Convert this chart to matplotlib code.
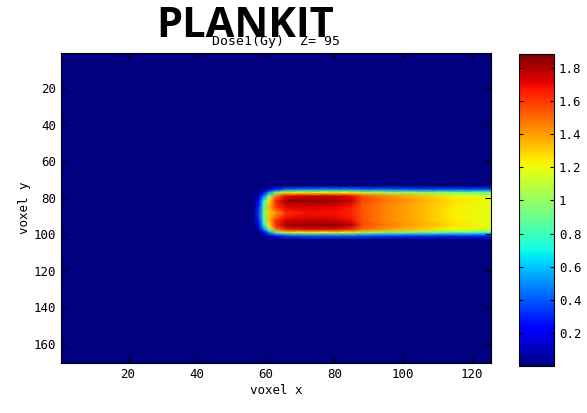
import numpy as np
import matplotlib
matplotlib.use('Agg')
import matplotlib.pyplot as plt

# Nodos de la malla (voxel x, voxel y) y dosis (Gy)
voxel_x = [0.5, 56.5, 58, 59.5, 61, 63, 66, 72, 80, 85, 88, 95, 105, 115, 125.5]
voxel_y = [0.5, 73.5, 75.5, 77, 79, 81.5, 85, 88.5, 92, 95, 97.5, 99, 101, 103, 170.5]
dosis = [
    [0, 0, 0, 0, 0, 0, 0, 0, 0, 0, 0, 0, 0, 0, 0],
    [0, 0, 0, 0, 0, 0, 0, 0, 0, 0, 0, 0, 0, 0, 0],
    [0, 0, 0, 0.05, 0.15, 0.3, 0.45, 0.5, 0.5, 0.5, 0.45, 0.45, 0.4, 0.4, 0.4],
    [0, 0, 0, 0.2, 0.5, 0.9, 1.15, 1.2, 1.2, 1.2, 1.1, 1.0, 0.95, 0.9, 0.85],
    [0, 0, 0.1, 0.45, 0.95, 1.45, 1.7, 1.75, 1.75, 1.7, 1.55, 1.45, 1.33, 1.22, 1.15],
    [0, 0, 0.2, 0.7, 1.25, 1.65, 1.84, 1.86, 1.84, 1.78, 1.58, 1.48, 1.37, 1.26, 1.2],
    [0, 0, 0.3, 0.85, 1.35, 1.6, 1.72, 1.74, 1.72, 1.66, 1.55, 1.45, 1.35, 1.24, 1.18],
    [0, 0, 0.35, 0.9, 1.3, 1.4, 1.62, 1.68, 1.68, 1.64, 1.55, 1.45, 1.35, 1.23, 1.17],
    [0, 0, 0.3, 0.85, 1.35, 1.6, 1.72, 1.76, 1.74, 1.68, 1.55, 1.45, 1.35, 1.24, 1.18],
    [0, 0, 0.2, 0.7, 1.25, 1.65, 1.84, 1.86, 1.86, 1.8, 1.58, 1.48, 1.37, 1.26, 1.2],
    [0, 0, 0.1, 0.45, 0.95, 1.45, 1.65, 1.7, 1.7, 1.62, 1.5, 1.4, 1.3, 1.2, 1.12],
    [0, 0, 0, 0.2, 0.5, 0.9, 1.1, 1.15, 1.15, 1.12, 1.05, 0.95, 0.9, 0.85, 0.8],
    [0, 0, 0, 0.03, 0.1, 0.25, 0.35, 0.4, 0.4, 0.4, 0.38, 0.35, 0.32, 0.3, 0.3],
    [0, 0, 0, 0, 0, 0, 0, 0, 0, 0, 0, 0, 0, 0, 0],
    [0, 0, 0, 0, 0, 0, 0, 0, 0, 0, 0, 0, 0, 0, 0],
]
x_ticks = [20, 40, 60, 80, 100, 120]
y_ticks = [20, 40, 60, 80, 100, 120, 140, 160]
cb_ticks = [0.2, 0.4, 0.6, 0.8, 1, 1.2, 1.4, 1.6, 1.8]
cb_labels = ['0.2', '0.4', '0.6', '0.8', '1', '1.2', '1.4', '1.6', '1.8']

mono = 'DejaVu Sans Mono'
fig = plt.figure(figsize=(5.87, 4.13), dpi=100)
ax = fig.add_axes([0.104, 0.121, 0.732, 0.751])
cax = fig.add_axes([0.884, 0.114, 0.060, 0.755])

malla = ax.pcolormesh(voxel_x, voxel_y, np.array(dosis), shading='gouraud',
                      cmap='jet', vmin=0, vmax=1.885)
ax.set_xlim(0.5, 125.5)
ax.set_ylim(170.5, 0.5)
ax.set_xticks(x_ticks)
ax.set_yticks(y_ticks)
ax.tick_params(direction='in', top=True, right=True, length=4, labelsize=9)
for lab in ax.get_xticklabels() + ax.get_yticklabels():
    lab.set_family(mono)
ax.set_xlabel('voxel x', family=mono, fontsize=9, labelpad=2)
ax.set_ylabel('voxel y', family=mono, fontsize=9, labelpad=2)
ax.set_title('Dose1(Gy)  Z= 95', family=mono, fontsize=9.5, pad=6)

cb = fig.colorbar(malla, cax=cax, ticks=cb_ticks)
cb.ax.set_yticklabels(cb_labels, family=mono, fontsize=9)
cb.ax.tick_params(direction='in', left=True, right=True, length=3)
cb.outline.set_linewidth(0.8)

fig.text(0.418, 0.935, 'PLANKIT', family='Open Sans', weight='bold',
         fontsize=30, ha='center', va='center')

fig.savefig('out.png', dpi=100)
